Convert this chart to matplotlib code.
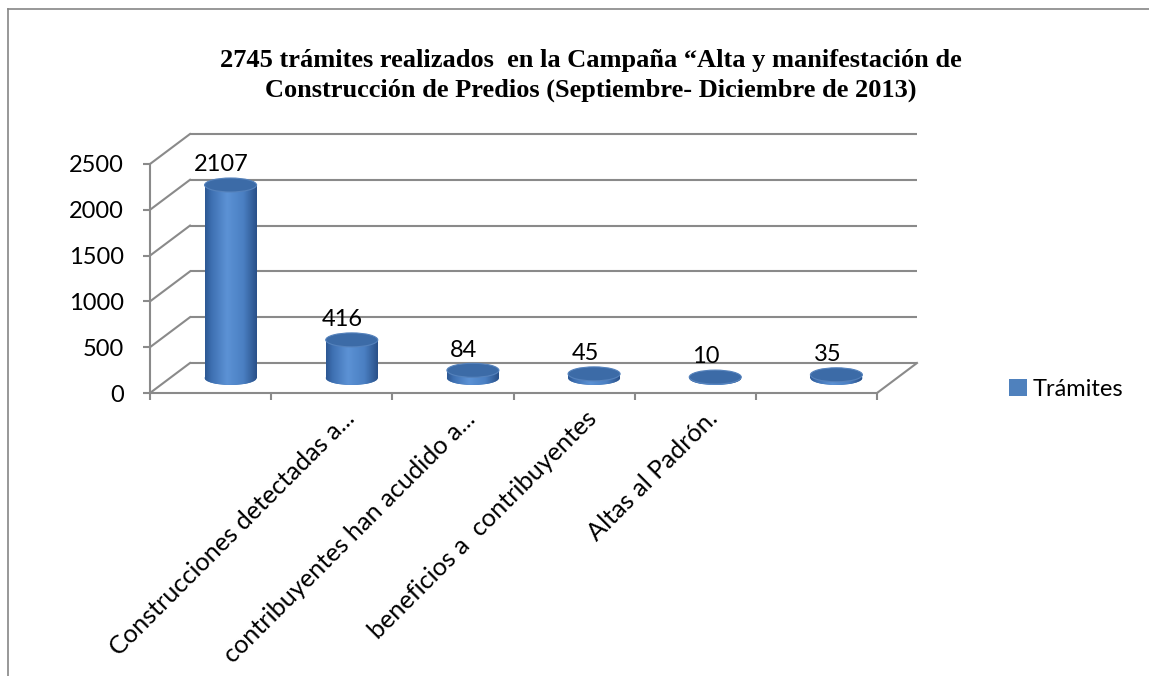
import matplotlib
matplotlib.use("Agg")
import matplotlib.pyplot as plt
import numpy as np
from matplotlib.patches import Ellipse
from matplotlib.colors import LinearSegmentedColormap
from matplotlib.lines import Line2D

# ---- data ----
title_lines = ["2745 trámites realizados  en la Campaña \u201cAlta y manifestación de",
               "Construcción de Predios (Septiembre- Diciembre de 2013)"]
values = [2107, 416, 84, 45, 10, 35]
category_labels = ["", "Construcciones detectadas a...", "contribuyentes han acudido a...",
                   "beneficios a  contribuyentes", "Altas al Padrón.", ""]
series_name = "Trámites"
yticks = [0, 500, 1000, 1500, 2000, 2500]

# ---- figure ----
W, H, DPI = 1149, 676, 100
fig = plt.figure(figsize=(W / DPI, H / DPI), dpi=DPI)
fig.patch.set_facecolor("white")

# front plane of plot area (pixels)
x0, x1 = 150, 877
y_zero, y_top = 393, 164
ax = fig.add_axes([x0 / W, (H - y_zero) / H, (x1 - x0) / W, (y_zero - y_top) / H])
n = len(values)
ax.set_xlim(-0.5, n - 0.5)
ax.set_ylim(0, 2500)
ax.set_facecolor("none")

px_per_cat = (x1 - x0) / n
px_per_unit = (y_zero - y_top) / 2500.0
# depth offset of back wall (pixels -> data units)
ddx = 40 / px_per_cat
ddy = 30 / px_per_unit

grid_c = "#8A8A8A"
glw = 1.5

# back wall gridlines and left wall diagonals
for v in yticks:
    ax.plot([-0.5 + ddx, n - 0.5 + ddx], [v + ddy, v + ddy], color=grid_c, lw=glw,
            clip_on=False, zorder=1, solid_capstyle="butt")
    ax.plot([-0.5, -0.5 + ddx], [v, v + ddy], color=grid_c, lw=glw, clip_on=False, zorder=1)
# right floor edge
ax.plot([n - 0.5, n - 0.5 + ddx], [0, ddy], color=grid_c, lw=glw, clip_on=False, zorder=1)

# spines / ticks
for s in ["top", "right"]:
    ax.spines[s].set_visible(False)
for s in ["left", "bottom"]:
    ax.spines[s].set_color(grid_c)
    ax.spines[s].set_linewidth(glw)
ax.set_yticks(yticks)
ax.set_yticklabels([str(t) for t in yticks], fontfamily="Lato", fontsize=17)
ax.tick_params(axis="y", length=5, width=glw, color=grid_c, pad=14)
ax.set_xticks(np.arange(-0.5, n, 1.0))
ax.set_xticklabels([])
ax.tick_params(axis="x", length=5, width=glw, color=grid_c)

# category labels
for i, lab in enumerate(category_labels):
    if lab:
        ax.annotate(lab, xy=(i, 0), xycoords="data", textcoords="offset points",
                    xytext=(19 * 0.72, -22 * 0.72), rotation=45, rotation_mode="anchor",
                    ha="right", va="center", fontfamily="Lato", fontsize=18.2,
                    annotation_clip=False)

# cylinders
bw = 52 / px_per_cat
eh = 14 / px_per_unit
xc = np.arange(n) + ddx / 2
base = ddy / 2
body_cmap = LinearSegmentedColormap.from_list(
    "cyl", [(0, "#2D5893"), (0.12, "#3E70B2"), (0.42, "#5C92D5"),
            (0.75, "#4A7FC2"), (1.0, "#2A5189")])
grad = np.linspace(0, 1, 64).reshape(1, -1)

bars = ax.bar(xc, values, width=bw, bottom=base, color="#4F81BD", label=series_name,
              zorder=3, clip_on=False, linewidth=0)
for i, (b, v) in enumerate(zip(bars, values)):
    # bottom ellipse
    e = Ellipse((xc[i], base), bw, eh, facecolor="#4F81BD", lw=0, zorder=2.9, clip_on=False)
    ax.add_patch(e)
    for clip, zo in ((e, 2.95), (b, 3.05)):
        im = ax.imshow(grad, cmap=body_cmap, aspect="auto", interpolation="bicubic",
                       extent=(xc[i] - bw / 2, xc[i] + bw / 2, base - eh, base + v + eh),
                       zorder=zo)
        im.set_clip_path(clip)
    # top ellipse
    ax.add_patch(Ellipse((xc[i], base + v), bw, eh, facecolor="#3C6BA7",
                         edgecolor="#5582BC", lw=0.8, zorder=3.2, clip_on=False))
    ax.annotate(str(v), xy=(xc[i], base + v), textcoords="offset points",
                xytext=(-6.5, 7), ha="center", va="bottom", fontfamily="Lato",
                fontsize=17, annotation_clip=False, zorder=4)

ax.set_xlim(-0.5, n - 0.5)
ax.set_ylim(0, 2500)

# legend
fig.legend(handles=[bars], labels=[series_name], loc="center left",
           bbox_to_anchor=(1000 / W, 1 - 389 / H), frameon=False,
           prop={"family": "Lato", "size": 17}, handlelength=0.75, handleheight=0.75,
           handletextpad=0.25, borderaxespad=0)

# title (two lines)
for k, (line, base_y) in enumerate(zip(title_lines, [67, 97])):
    fig.text(591 / W, 1 - base_y / H, line, ha="center", va="baseline",
             fontfamily="Liberation Serif", fontweight="bold", fontsize=19)

# chart border (left and top)
fig.add_artist(Line2D([8 / W, 8 / W], [0, 1 - 9 / H], transform=fig.transFigure,
                      color="#868686", lw=1.2))
fig.add_artist(Line2D([8 / W, 1], [1 - 9 / H, 1 - 9 / H], transform=fig.transFigure,
                      color="#868686", lw=1.2))

fig.savefig("out.png", dpi=DPI, facecolor="white")
